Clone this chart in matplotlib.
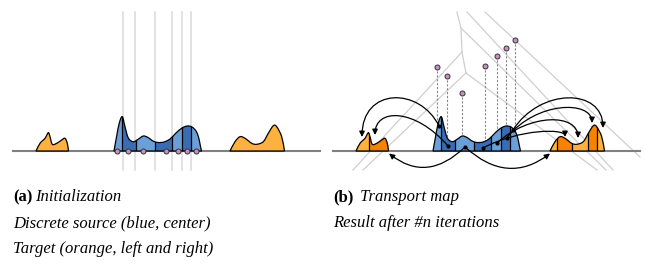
import numpy as np
import matplotlib.pyplot as plt
from matplotlib.path import Path
from matplotlib.patches import PathPatch, Rectangle, FancyArrowPatch

# coordenadas em pixels (painel a); o painel b e' o mesmo deslocado de DX
BASE_Y = 151
DX = 320

blue_x = [114, 116.5, 119.3, 122.3, 125, 128.3, 133.3, 138.5, 143.3, 148, 153, 158,
          164, 170, 176, 182, 187.3, 192, 196, 198.5, 200.2, 201.5]
blue_y = [151, 137, 123, 116.7, 126.7, 138, 141.7, 139, 136, 137.5, 141, 142.5,
          142, 139, 133, 128, 126, 127, 131, 137, 145, 151]
blue_cortes = [122, 136, 155, 172, 182, 191]

lar_esq_x = [36, 40, 45, 48.3, 50, 52.3, 56.7, 61.7, 65, 67.3, 68.5]
lar_esq_y = [151, 143.3, 138.3, 132.7, 136.7, 144.3, 143.3, 140, 138.3, 143.3, 151]
lar_dir_x = [230, 235, 240, 245, 251.7, 256.7, 263.3, 268.3, 273.3, 276.7, 281.7, 284.5]
lar_dir_y = [151, 141.7, 136.7, 138.3, 143.3, 144.3, 141.7, 133.3, 125.7, 126.7, 136.7, 151]
lar_esq_cortes = [49]
lar_dir_cortes = [237, 252, 268, 277]

# pontos (sitios) do painel a e do painel b
pts_a_x = [117, 128, 143, 166, 178, 187, 196]
pts_b_x = [437, 447, 462, 485, 497, 506, 515]
pts_b_y = [67, 76, 93, 66, 56, 48, 40]

# linhas do diagrama de potencia (painel a: verticais)
linhas_a = [123, 135, 155, 172, 182, 191]

# centroides / setas do painel b: (x0, y0, x1, y1, altura do arco)
centroides = [(439, 126), (448, 146), (465, 147), (483, 148), (497, 143), (507, 137.5), (513, 130)]
setas_cima = [(439, 126, 362, 137, 98, 0.25), (448, 146, 375, 135, 116, 0.45),
              (483, 148, 565, 137, 132, 0.45), (497, 143, 578, 138, 120, 0.4),
              (507, 137.5, 592, 123, 108, 0.35), (513, 130, 603, 128, 98, 0.3)]
setas_baixo = [(465, 147, 389, 153.5, 167), (465, 147, 550, 153.5, 168)]

AZUL_CLARO = '#6b9fd8'
AZUL_ESCURO = '#3a6cb3'
LAR_CLARO = '#fdb13f'
LAR_ESCURO = '#f58300'
ROSA = '#c98fc4'
CINZA = '#cfcfcf'


def caminho_suave(xs, ys):
    # catmull-rom -> bezier cubica
    p = np.column_stack([xs, ys]).astype(float)
    p = np.vstack([p[0], p, p[-1]])
    verts = [p[1]]
    codes = [Path.MOVETO]
    for i in range(1, len(p) - 2):
        p0, p1, p2, p3 = p[i - 1], p[i], p[i + 1], p[i + 2]
        c1 = p1 + (p2 - p0) / 6.0
        c2 = p2 - (p3 - p1) / 6.0
        verts += [c1, c2, p2]
        codes += [Path.CURVE4] * 3
    verts.append(p[1])
    codes.append(Path.LINETO)
    verts.append(p[1])
    codes.append(Path.CLOSEPOLY)
    return Path(verts, codes)


def desenha_forma(ax, xs, ys, cortes, cores, dx=0):
    xs = np.array(xs) + dx
    caminho = caminho_suave(xs, ys)
    fundo = PathPatch(caminho, facecolor='none', edgecolor='none')
    ax.add_patch(fundo)
    limites = [xs[0]] + [c + dx for c in cortes] + [xs[-1]]
    for i in range(len(limites) - 1):
        r = Rectangle((limites[i], 90), limites[i + 1] - limites[i], BASE_Y - 90 + 1,
                      facecolor=cores[i % len(cores)], edgecolor='none', zorder=3)
        ax.add_patch(r)
        r.set_clip_path(fundo)
    for c in cortes:
        l, = ax.plot([c + dx, c + dx], [90, BASE_Y], color='k', lw=0.9, zorder=4)
        l.set_clip_path(fundo)
    ax.add_patch(PathPatch(caminho, facecolor='none', edgecolor='k', lw=0.9, zorder=4))


fig = plt.figure(figsize=(6.45, 2.64), dpi=100)
ax = fig.add_axes([0, 0, 1, 1])
ax.set_xlim(0, 645)
ax.set_ylim(264, 0)
ax.axis('off')

# ---------------- painel (a) ----------------
for x in linhas_a:
    ax.plot([x, x], [12, 170], color='#dddddd', lw=1.2, zorder=1)
ax.plot([13, 320], [BASE_Y, BASE_Y], color='#808080', lw=1.5, zorder=2)
desenha_forma(ax, lar_esq_x, lar_esq_y, [], [LAR_CLARO])
desenha_forma(ax, lar_dir_x, lar_dir_y, [], [LAR_CLARO])
desenha_forma(ax, blue_x, blue_y, blue_cortes, [AZUL_CLARO, AZUL_ESCURO])
ax.plot(pts_a_x, [BASE_Y] * len(pts_a_x), 'o', ms=3.6, mfc=ROSA, mec='#333333', mew=0.7, zorder=6)

# ---------------- painel (b) ----------------
diagrama = [
    [(457, 12), (461, 28), (462, 52), (466, 73)],
    [(462, 52), (353, 170)],
    [(466, 73), (363, 170)],
    [(485, 12), (640, 157)],
    [(467, 12), (613, 170)],
    [(461, 28), (606, 170)],
    [(466, 73), (597, 170)],
]
for seg in diagrama:
    sx, sy = zip(*seg)
    ax.plot(sx, sy, color=CINZA, lw=0.9, zorder=1)
ax.plot([333, 640], [BASE_Y, BASE_Y], color='#808080', lw=1.5, zorder=2)
for x, y in zip(pts_b_x, pts_b_y):
    ax.plot([x, x], [y, BASE_Y], color='#888888', lw=0.8, ls=(0, (2, 1.5)), zorder=2)

desenha_forma(ax, lar_esq_x, lar_esq_y, lar_esq_cortes, [LAR_CLARO, LAR_ESCURO], DX)
desenha_forma(ax, lar_dir_x, lar_dir_y, lar_dir_cortes, [LAR_CLARO, LAR_ESCURO], DX)
desenha_forma(ax, blue_x, blue_y, blue_cortes, [AZUL_CLARO, AZUL_ESCURO], DX - 1)
ax.plot(pts_b_x, pts_b_y, 'o', ms=3.6, mfc=ROSA, mec='#333333', mew=0.7, zorder=6)
cx, cy = zip(*centroides)
ax.plot(cx, cy, 'o', ms=2, color='k', zorder=6)

for x0, y0, x1, y1, topo, f in setas_cima:
    c = (8 * topo - y0 - y1) / 6.0
    p = Path([(x0, y0), (x0 + f * (x1 - x0), c), (x1, c), (x1, y1)],
             [Path.MOVETO, Path.CURVE4, Path.CURVE4, Path.CURVE4])
    ax.add_patch(FancyArrowPatch(path=p, arrowstyle='-|>', mutation_scale=8,
                                 lw=0.9, color='k', zorder=7))
for x0, y0, x1, y1, fundo in setas_baixo:
    c = 2 * fundo - (y0 + y1) / 2.0
    p = Path([(x0, y0), ((x0 + x1) / 2.0, c), (x1, y1)],
             [Path.MOVETO, Path.CURVE3, Path.CURVE3])
    ax.add_patch(FancyArrowPatch(path=p, arrowstyle='-|>', mutation_scale=8,
                                 lw=0.9, color='k', zorder=7))

# ---------------- legendas ----------------
fonte = 'Liberation Serif'
tam = 12
renderer = fig.canvas.get_renderer()


def legenda(x, y, negrito, italico):
    t = ax.text(x, y, negrito, fontfamily=fonte, fontweight='bold', fontsize=tam, va='baseline')
    bb = t.get_window_extent(renderer)
    x2 = ax.transData.inverted().transform((bb.x1, 0))[0]
    ax.text(x2 + 3, y, italico, fontfamily=fonte, style='italic', fontsize=tam, va='baseline')


legenda(13, 201, '(a)', 'Initialization')
ax.text(13, 227, 'Discrete source (blue, center)', fontfamily=fonte, style='italic', fontsize=tam, va='baseline')
ax.text(13, 253, 'Target (orange, left and right)', fontfamily=fonte, style='italic', fontsize=tam, va='baseline')
legenda(333, 201, '(b)', ' Transport map')
ax.text(333, 227, 'Result after #n iterations', fontfamily=fonte, style='italic', fontsize=tam, va='baseline')

fig.savefig('out.png', dpi=100)
